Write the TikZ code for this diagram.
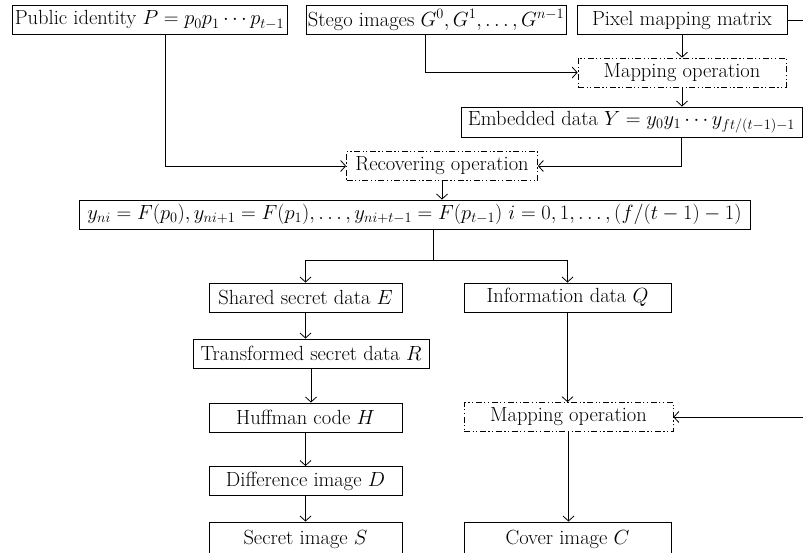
\documentclass[tikz,border=0pt]{standalone}
\usepackage{fix-cm}
\usetikzlibrary{positioning, arrows.meta}

\begin{document}
\begin{tikzpicture}[x=1pt, y=-1pt,
  blk/.style={draw, line width=0.9pt, inner sep=0pt, minimum height=29pt, font=\fontsize{20.5}{24}\selectfont},
  opblk/.style={blk, line width=0.7pt, dash pattern=on 6pt off 2.5pt on 1.2pt off 2.5pt on 1.2pt off 2.5pt},
  wire/.style={line width=0.8pt},
  conn/.style={wire, -{Straight Barb[length=5pt, width=11pt]}}]

% Draw page frame
\useasboundingbox (0,0) rectangle (803,552);

% Draw inputs
\node[blk, minimum width=275pt] (pubid) at (149.5,20) {Public identity $P = p_0p_1\cdots p_{t-1}$};
\node[blk, minimum width=260pt] (stego) at (436,20) {Stego images $G^0, G^1, \ldots, G^{n-1}$};
\node[blk, minimum width=210pt] (pixmat) at (682,20) {Pixel mapping matrix};

% Draw recovering stage
\node[opblk, minimum width=208pt] (mapop) at (682,72.5) {Mapping operation};
\node[blk, minimum width=341pt, minimum height=30pt] (embed) at (631.5,122) {Embedded data $Y = y_0y_1\cdots y_{ft/(t-1)-1}$};
\node[opblk, minimum width=191pt] (recover) at (442,166) {Recovering operation};
\node[blk, minimum width=671pt] (formula) at (414.5,214.5) {$y_{ni} = F(p_0), y_{ni+1} = F(p_1), \ldots, y_{ni+t-1} = F(p_{t-1})\ i = 0, 1, \ldots, (f/(t-1)-1)$};

% Draw secret branch
\node[blk, minimum width=193pt] (shared) at (305.5,297.5) {Shared secret data $E$};
\node[blk, minimum width=236pt] (transf) at (311,353.5) {Transformed secret data $R$};
\node[blk, minimum width=193pt] (huff) at (305.5,417.5) {Huffman code $H$};
\node[blk, minimum width=193pt] (diffimg) at (305.5,481) {Difference image $D$};
\node[blk, minimum width=193pt, minimum height=34pt] (secret) at (305.5,539) {Secret image $S$};

% Draw cover branch
\node[blk, minimum width=207pt] (info) at (567.5,297.5) {Information data $Q$};
\node[opblk, minimum width=209pt] (mapop2) at (568.5,417) {Mapping operation};
\node[blk, minimum width=207pt, minimum height=34pt] (cover) at (567.5,539) {Cover image $C$};

\coordinate (split) at (433,260);
\coordinate (rtop) at (804,20);
\coordinate (rbot) at (804,417);

% Draw connectors
\draw[conn] (pixmat) -- (mapop);
\draw[conn] ([xshift=-11pt]stego.south) |- (mapop.west);
\draw[conn] (mapop.south) -- (mapop.south |- embed.north);
\draw[conn] ([xshift=49.5pt]embed.south) |- (recover.east);
\draw[conn] ([xshift=15.5pt]pubid.south) |- (recover.west);
\draw[conn] (recover.south) -- (recover.south |- formula.north);
\draw[wire] ([xshift=18.5pt]formula.south) -- (split);
\draw[conn] (split) -| (shared.north);
\draw[conn] (split) -| (info.north);
\foreach \a/\b in {shared/transf, transf/huff, huff/diffimg, diffimg/secret}
  \draw[conn] (\a.south) -- (\a.south |- \b.north);
\draw[conn] (info.south) -- (info.south |- mapop2.north);
\draw[conn] (mapop2.south) -- (mapop2.south |- cover.north);
\draw[conn] (pixmat.east) -- (rtop) -- (rbot) -- (mapop2.east);

\end{tikzpicture}
\end{document}
